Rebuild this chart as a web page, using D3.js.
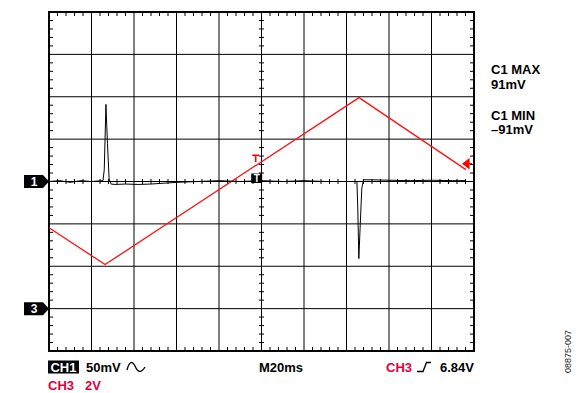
<!DOCTYPE html>
<html><head><meta charset="utf-8">
<script src="https://cdn.jsdelivr.net/npm/d3@7"></script>
<style>
html,body{margin:0;padding:0;background:#fff;}
svg{display:block;font-family:"Liberation Sans",Arial,sans-serif;}
</style></head>
<body>
<svg id="c" width="588" height="393"></svg>
<script>
// ---- data ----
// CH1 (current sense, mV) vs time (ms)
const ch1Time = [0, 5, 10, 15, 20, 25.4, 26.0, 26.8, 27.5, 28.3, 29.2, 31, 36, 42, 48, 54, 60, 70, 80, 90, 100, 110, 120, 130, 140, 144.9, 145.3, 145.8, 146.4, 147.2, 148, 152, 160, 170, 180, 190, 196.2];
const ch1mV   = [0, 1, -1, 1, 0, 1, 14, 91, 45, 3, -3, -3.5, -3, -3.5, -3, -2, -1, 0, 1, 0, 1, 0, 1, 0, 0, 0, -30, -91, -55, -8, 2, 2, 1.5, 1, 1.5, 1, 1];
// CH3 (triangle ramp, V) vs time (ms)
const ch3Time = [0, 26.4, 145.9, 196.2];
const ch3V    = [3.82, 2.08, 9.96, 6.56];
// settings
const timeDomain = [0, 200];         // 20 ms/div, 10 div
const ch1Domain = [-200, 200];       // 50 mV/div, 8 div
const ch3Domain = [-2, 14];          // 2 V/div, ground 3 div below centre
const trigTime = [97.5];
const trigLevel = [6.84];
const measLabels = ["C1 MAX", "91mV", "C1 MIN", "\u201391mV"];

// ---- layout ----
const L = 49, R = 474, T = 12, B = 351;
const svg = d3.select("#c");
const x = d3.scaleLinear().domain(timeDomain).range([L, R]);
const y1 = d3.scaleLinear().domain(ch1Domain).range([B, T]);
const y3 = d3.scaleLinear().domain(ch3Domain).range([B, T]);
const RED = "#e4003a";

// grid
const g = svg.append("g");
g.selectAll(".vg").data(d3.range(20, 200, 20)).enter().append("line")
  .attr("x1", d => x(d)).attr("x2", d => x(d)).attr("y1", T).attr("y2", B)
  .attr("stroke", "#000").attr("stroke-width", 1);
g.selectAll(".hg").data(d3.range(-150, 200, 50)).enter().append("line")
  .attr("y1", d => y1(d)).attr("y2", d => y1(d)).attr("x1", L).attr("x2", R)
  .attr("stroke", "#000").attr("stroke-width", 1);

// minor ticks
const xt = d3.range(0, 200.01, 4).filter(d => d % 20 !== 0);
const yt = d3.range(-200, 200.01, 10).filter(d => d % 50 !== 0);
const tk = svg.append("g").attr("stroke", "#000").attr("stroke-width", 1);
xt.forEach(d => {
  tk.append("line").attr("x1", x(d)).attr("x2", x(d)).attr("y1", T).attr("y2", T + 4);
  tk.append("line").attr("x1", x(d)).attr("x2", x(d)).attr("y1", B - 4).attr("y2", B);
  tk.append("line").attr("x1", x(d)).attr("x2", x(d)).attr("y1", y1(0) - 2.5).attr("y2", y1(0) + 2.5);
});
yt.forEach(d => {
  tk.append("line").attr("y1", y1(d)).attr("y2", y1(d)).attr("x1", L).attr("x2", L + 4);
  tk.append("line").attr("y1", y1(d)).attr("y2", y1(d)).attr("x1", R - 4).attr("x2", R);
  tk.append("line").attr("y1", y1(d)).attr("y2", y1(d)).attr("x1", x(100) - 2.5).attr("x2", x(100) + 2.5);
});

// border
svg.append("rect").attr("x", L).attr("y", T).attr("width", R - L).attr("height", B - T)
  .attr("fill", "none").attr("stroke", "#000").attr("stroke-width", 2);

// traces
const ch3 = ch3Time.map((t, i) => [t, ch3V[i]]);
svg.append("path").datum(ch3)
  .attr("d", d3.line().x(d => x(d[0])).y(d => y3(d[1])))
  .attr("fill", "none").attr("stroke", "#ff1010").attr("stroke-width", 1.3);

const ch1 = ch1Time.map((t, i) => [t, ch1mV[i]]);
svg.append("path").datum(ch1)
  .attr("d", d3.line().x(d => x(d[0])).y(d => y1(d[1])))
  .attr("fill", "none").attr("stroke", "#000").attr("stroke-width", 1);

// trigger markers
const tx = x(trigTime[0]), ty = y3(trigLevel[0]);
svg.append("path").attr("d", `M${tx-4},${ty-8.5}H${tx+3}M${tx-0.5},${ty-8.5}V${ty-1.5}`)
  .attr("stroke", "#f00").attr("stroke-width", 1.6).attr("fill", "none");
svg.append("rect").attr("x", tx - 5).attr("y", y1(0) - 8).attr("width", 11).attr("height", 9.5).attr("fill", "#000");
svg.append("text").attr("x", tx + 0.5).attr("y", y1(0) + 0.5).attr("text-anchor", "middle")
  .attr("font-size", 10).attr("font-weight", "bold").attr("fill", "#fff").text("T");
svg.append("path").attr("d", `M${R-11},${ty}L${R-5},${ty-4.5}V${ty+4.5}Z M${R-6},${ty}H${R-2}`)
  .attr("fill", "#f00").attr("stroke", "#f00").attr("stroke-width", 1.2);

// channel markers
function marker(yc, label) {
  svg.append("path").attr("d", `M24,${yc-6.5}H43L49,${yc}L43,${yc+6.5}H24Z`).attr("fill", "#000");
  svg.append("text").attr("x", 34).attr("y", yc + 4.5).attr("text-anchor", "middle")
    .attr("font-size", 12).attr("font-weight", "bold").attr("fill", "#fff").text(label);
}
marker(y1(0), "1");
marker(y3(0), "3");

// measurement labels
const mY = [74, 88.5, 119.5, 134];
svg.selectAll(".meas").data(measLabels).enter().append("text")
  .attr("x", 491).attr("y", (d, i) => mY[i])
  .attr("font-size", 13).attr("font-weight", "bold").attr("fill", "#000").text(d => d);

// bottom labels
svg.append("rect").attr("x", 48).attr("y", 360.5).attr("width", 31).attr("height", 13).attr("fill", "#000");
svg.append("text").attr("x", 63.5).attr("y", 372).attr("text-anchor", "middle")
  .attr("font-size", 13).attr("font-weight", "bold").attr("fill", "#fff").text("CH1");
svg.append("text").attr("x", 86).attr("y", 372).attr("font-size", 13).attr("font-weight", "bold").text("50mV");
svg.append("path").attr("d", "M127,370 C129,362 132,360 135,366 C137.5,372 141,374 145,367")
  .attr("fill", "none").attr("stroke", "#000").attr("stroke-width", 1.3);
svg.append("text").attr("x", 48).attr("y", 390).attr("font-size", 13).attr("font-weight", "bold").attr("fill", RED).text("CH3");
svg.append("text").attr("x", 85).attr("y", 390).attr("font-size", 13).attr("font-weight", "bold").attr("fill", RED).text("2V");
svg.append("text").attr("x", 259).attr("y", 372).attr("font-size", 13).attr("font-weight", "bold").text("M20ms");
svg.append("text").attr("x", 386).attr("y", 372).attr("font-size", 13).attr("font-weight", "bold").attr("fill", RED).text("CH3");
svg.append("path").attr("d", "M417,371.5H423L426.5,362.5H431")
  .attr("fill", "none").attr("stroke", "#000").attr("stroke-width", 1.3);
svg.append("text").attr("x", 474).attr("y", 372).attr("text-anchor", "end").attr("font-size", 13).attr("font-weight", "bold").text(trigLevel[0].toFixed(2) + "V");
svg.append("text").attr("transform", "translate(571,373) rotate(-90)")
  .attr("font-size", 9).attr("fill", "#222").text("08875-007");
</script>
</body></html>
